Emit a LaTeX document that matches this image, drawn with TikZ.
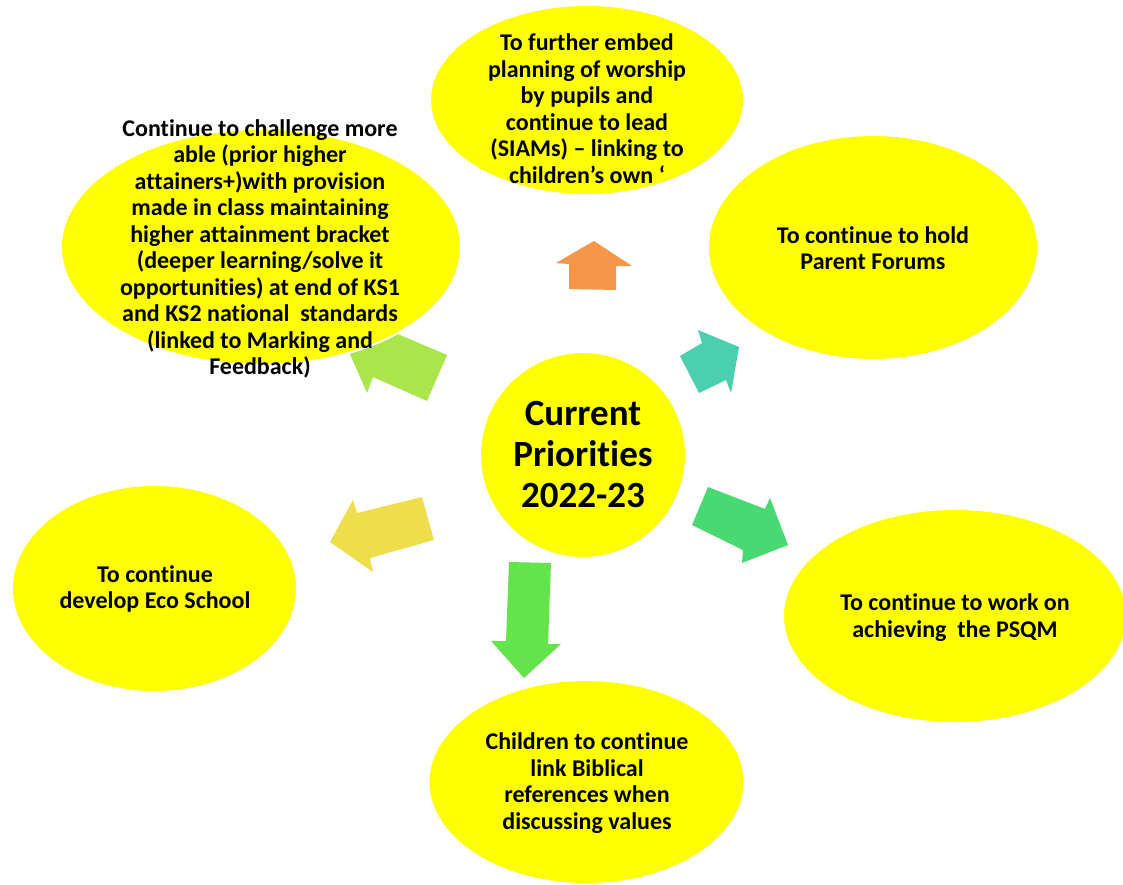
\documentclass[tikz,border=0pt]{standalone}
\usepackage{fontspec}
\setmainfont[RawFeature={-liga;-clig;-dlig}]{Carlito}
\usetikzlibrary{shapes.geometric}
\definecolor{yel}{RGB}{255,255,0}
\definecolor{arrOrange}{RGB}{247,150,72}
\definecolor{arrTeal}{RGB}{75,207,175}
\definecolor{arrLime}{RGB}{170,230,75}
\definecolor{arrOchre}{RGB}{239,222,75}
\definecolor{arrGreen}{RGB}{72,217,115}
\definecolor{arrGrass}{RGB}{100,228,75}
\tikzset{
  bubble/.style={ellipse, fill=yel, draw=white, line width=2pt, inner sep=0pt},
  txt/.style={align=center, font=\bfseries\fontsize{24}{26.5}\selectfont, inner sep=0pt},
  bigtxt/.style={align=center, font=\bfseries\fontsize{37}{41}\selectfont, inner sep=0pt}
}
\begin{document}
\begin{tikzpicture}[x=1pt,y=-1pt]
\useasboundingbox (0,0) rectangle (1123,884);
\fill[white] (0,0) rectangle (1123,884);
% block arrows
\fill[arrOrange] (569,289) -- (569,264) -- (556,263) -- (594,241) -- (632,266) -- (616,266) -- (616,290) -- cycle;
\fill[arrTeal] (680,356) -- (702,343) -- (698,330) -- (739,347) -- (731,393) -- (726,380) -- (699,393) -- cycle;
\fill[arrLime] (447,355) -- (393,332) -- (400,316) -- (342,336) -- (367,393) -- (373,377) -- (427,401) -- cycle;
\fill[arrOchre] (422,497) -- (357,513) -- (353,500) -- (330,542) -- (373,572) -- (370,558) -- (434,540) -- cycle;
\fill[arrGreen] (708,487) -- (765,509) -- (770,498) -- (788,545) -- (742,563) -- (743,550) -- (692,525) -- cycle;
\fill[arrGrass] (509,562) -- (551,563) -- (548,644) -- (561,644) -- (524,678) -- (491,641) -- (506,641) -- cycle;
% bubbles
\node[bubble, minimum width=314pt, minimum height=190pt] (top) at (587,100) {};
\node[bubble, minimum width=400pt, minimum height=236pt] (ul) at (261,247) {};
\node[bubble, minimum width=330pt, minimum height=225pt] (ur) at (873,247.5) {};
\node[bubble, minimum width=206pt, minimum height=206pt] (ctr) at (583,455) {};
\node[bubble, minimum width=285pt, minimum height=207pt] (lb) at (154.5,588.5) {};
\node[bubble, minimum width=344pt, minimum height=214pt] (rb) at (955,616) {};
\node[bubble, minimum width=316pt, minimum height=204pt] (bot) at (586.5,782) {};
% texts
\node[txt] (toptxt) at (587,108.5) {To further embed\\planning of worship\\by pupils and\\continue to lead\\(SIAMs) -- linking to\\children’s own ‘};
\node[txt] (ultxt) at (260,249) {Continue to challenge more\\able (prior higher\\attainers+)with provision\\made in class maintaining\\higher attainment bracket\\(deeper learning/solve it\\opportunities) at end of KS1\\and KS2 national\ \ standards\\(linked to Marking and\\Feedback)};
\node[txt] (urtxt) at (873,248) {To continue to hold\\Parent Forums};
\node[bigtxt] (ctrtxt) at (583,454.5) {Current\\Priorities\\2022-23};
\node[txt] (lbtxt) at (155,589) {To continue\\develop Eco School};
\node[txt] (rbtxt) at (955,617.5) {To continue to work on\\achieving\ \ the PSQM};
\node[txt] (bottxt) at (587,783) {Children to continue\\link Biblical\\references when\\discussing values};
\end{tikzpicture}
\end{document}
